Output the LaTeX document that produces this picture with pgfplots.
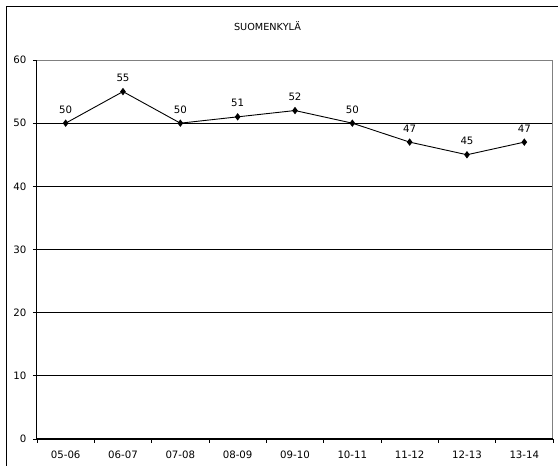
\documentclass[border=0pt]{standalone}
\usepackage{pgfplots}
\pgfplotsset{compat=1.18}
\usepackage{fontspec}
\setmainfont{DejaVu Sans}
\begin{document}
\begin{tikzpicture}[x=1pt,y=1pt]
\useasboundingbox (0,0) rectangle (558,466);
\fill[white] (0,0) rectangle (558,466);
\draw[black, line width=1.3pt] (6.5,-20) -- (6.5,459.5) -- (600,459.5);
\node[font=\fontsize{9.7}{11}\selectfont] at (267.5,440) {SUOMENKYLÄ};
\begin{axis}[at={(37pt,27pt)}, anchor=south west, scale only axis,
  width=516pt, height=379pt,
  xmin=-0.5, xmax=8.5, ymin=0, ymax=60,
  ytick={0,10,...,60},
  xtick={0,...,8},
  xticklabels={05-06,06-07,07-08,08-09,09-10,10-11,11-12,12-13,13-14},
  minor xtick={-0.5,0.5,...,8.5},
  major x tick style={draw=none},
  minor x tick style={black, line width=0.8pt},
  major y tick style={black, line width=0.8pt},
  tick align=outside, major tick length=4pt, minor tick length=4pt,
  xtick pos=bottom, ytick pos=left,
  ymajorgrids, grid style={black, line width=0.9pt},
  axis line style={draw=none},
  /pgf/number format/assume math mode=true,
  ticklabel style={font=\fontsize{10.2}{12}\selectfont},
  xticklabel style={yshift=-4pt},
  yticklabel style={xshift=-3pt},
  clip=false,
]
\draw[gray, line width=1pt] (rel axis cs:0,1) -- (rel axis cs:1,1) -- (rel axis cs:1,0);
\draw[black, line width=1pt] (rel axis cs:0,1) -- (rel axis cs:0,0) -- (rel axis cs:1,0);
\addplot[black, line width=0.9pt, mark=diamond*, mark size=3pt,
  nodes near coords,
  every node near coord/.style={font=\fontsize{10.2}{12}\selectfont, anchor=south, yshift=6pt}]
  coordinates {(0,50) (1,55) (2,50) (3,51) (4,52) (5,50) (6,47) (7,45) (8,47)};
\end{axis}
\end{tikzpicture}
\end{document}
